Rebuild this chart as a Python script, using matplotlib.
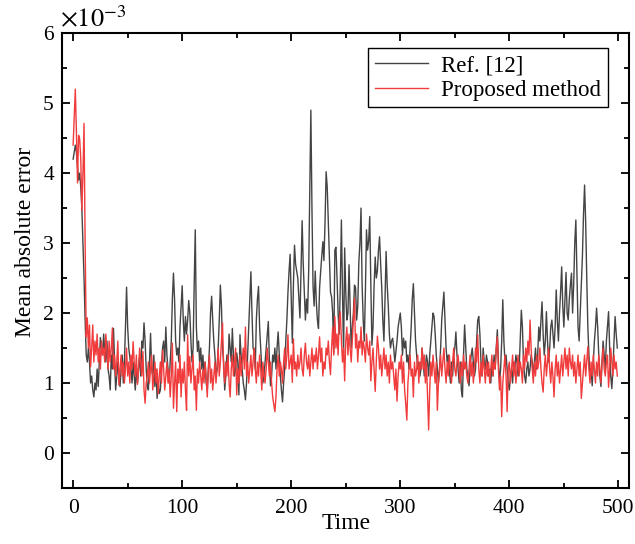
import numpy as np
import matplotlib
matplotlib.use('Agg')
import matplotlib.pyplot as plt
from matplotlib.ticker import MultipleLocator

plt.rcParams['font.family'] = 'Liberation Serif'
plt.rcParams['mathtext.fontset'] = 'stix'

# mean absolute error, units of 1e-3, one value per time step (t = 0..499)
ref12 = [
    4.2, 4.3, 4.4, 4.3, 4.1, 3.9, 4.0, 3.8, 3.5, 3.0, 2.5, 1.9, 1.4, 1.3, 1.5, 1.3, 1.0, 1.1, 0.9, 0.8,
    1.0, 0.9, 1.2, 0.95, 1.3, 1.65, 1.5, 1.4, 1.7, 1.45, 1.3, 1.6, 1.2, 1.1, 0.9, 1.4, 1.2, 1.78, 1.3, 0.9,
    1.1, 1.3, 1.05, 0.95, 1.2, 1.4, 1.0, 1.3, 1.8, 2.37, 1.8, 1.5, 1.37, 1.2, 1.0, 1.3, 1.1, 0.9, 1.25, 1.0,
    1.2, 1.4, 1.1, 1.6, 1.5, 1.86, 1.6, 1.2, 0.95, 0.9, 1.3, 1.71, 1.2, 1.1, 1.4, 0.95, 1.2, 0.78, 1.0, 0.85,
    0.9, 1.2, 1.5, 1.6, 1.3, 1.8, 1.4, 1.2, 1.0, 1.3, 1.6, 2.2, 2.57, 2.2, 1.6, 1.4, 1.5, 1.3, 1.8, 2.1,
    2.39, 1.9, 1.6, 1.95, 1.7, 1.9, 2.18, 2.0, 1.6, 1.3, 1.5, 2.4, 3.19, 1.8, 1.45, 1.6, 1.3, 1.5, 1.2, 1.4,
    1.1, 1.3, 1.0, 0.9, 1.2, 1.5, 2.0, 2.24, 1.9, 1.6, 1.4, 1.1, 1.2, 1.5, 1.9, 2.4, 2.1, 1.5, 1.3, 0.9,
    1.1, 1.4, 1.2, 1.7, 1.5, 1.3, 1.78, 1.4, 1.1, 1.2, 1.43, 1.3, 0.83, 1.69, 1.4, 1.2, 1.0, 0.9, 0.76, 1.0,
    1.4, 1.8, 2.2, 2.59, 2.0, 1.5, 1.45, 1.2, 1.9, 2.2, 2.38, 1.8, 1.5, 1.2, 1.0, 1.1, 1.3, 1.5, 1.7, 1.88,
    1.3, 0.96, 1.1, 1.4, 1.3, 1.5, 1.2, 1.5, 1.73, 1.4, 1.1, 0.9, 0.73, 1.0, 1.2, 1.6, 1.9, 2.3, 2.6, 2.84,
    2.2, 1.57, 2.4, 2.97, 2.7, 2.6, 2.5, 2.2, 1.93, 2.6, 3.32, 2.7, 2.3, 1.9, 2.2, 2.0, 2.6, 3.8, 4.9, 3.5,
    2.38, 2.1, 2.6, 2.16, 1.9, 1.78, 2.36, 2.6, 2.8, 3.02, 2.75, 3.3, 4.02, 3.8, 3.3, 2.8, 2.3, 2.23, 2.0, 1.43,
    2.9, 2.94, 2.5, 2.0, 1.7, 2.4, 3.33, 2.3, 1.4, 2.93, 2.3, 1.9, 2.0, 2.69, 2.1, 1.5, 1.8, 2.0, 2.4, 2.36,
    1.9, 2.1, 2.73, 3.0, 3.5, 2.4, 1.9, 1.6, 2.3, 3.19, 2.9, 3.03, 3.38, 2.4, 1.54, 1.8, 2.4, 2.8, 2.5, 2.6,
    2.9, 3.09, 2.7, 2.36, 1.9, 1.6, 2.2, 2.88, 2.4, 2.1, 1.7, 1.5, 1.6, 1.64, 1.5, 1.3, 1.45, 1.6, 1.8, 1.9,
    2.0, 1.8, 1.4, 1.64, 1.5, 1.6, 1.3, 1.4, 1.2, 1.5, 1.8, 2.2, 2.42, 2.0, 1.6, 1.4, 1.2, 1.3, 1.1, 1.2,
    1.5, 1.3, 1.1, 1.2, 1.4, 1.3, 1.1, 1.4, 1.6, 1.8, 2.0, 1.95, 1.7, 1.4, 1.2, 1.0, 1.2, 1.5, 1.9, 2.1,
    2.3, 1.9, 1.5, 1.3, 1.4, 1.2, 1.0, 1.3, 1.1, 1.4, 1.5, 1.73, 1.4, 1.2, 1.0, 1.3, 0.9, 0.8, 1.4, 1.83,
    1.5, 1.2, 1.1, 0.96, 1.2, 1.4, 1.5, 1.3, 1.1, 1.2, 1.6, 1.9, 1.95, 1.7, 1.3, 1.1, 1.5, 1.3, 1.2, 1.4,
    1.3, 1.1, 1.2, 1.0, 1.3, 1.1, 1.4, 1.2, 1.5, 1.76, 1.3, 1.0, 1.2, 1.6, 2.19, 1.6, 1.3, 1.4, 1.2, 1.0,
    0.9, 1.1, 1.2, 1.0, 1.3, 1.2, 1.4, 1.3, 1.1, 1.2, 1.6, 2.04, 1.8, 1.3, 1.1, 1.0, 1.2, 1.3, 1.1, 1.2,
    1.4, 1.3, 1.1, 1.3, 1.5, 1.2, 1.4, 1.8, 1.6, 1.9, 2.16, 1.7, 1.4, 1.6, 2.02, 1.6, 1.3, 1.5, 1.8, 1.9,
    1.7, 1.5, 1.8, 2.33, 1.9, 1.6, 2.0, 2.3, 2.66, 2.1, 1.8, 2.2, 2.58, 2.0, 1.9, 2.2, 2.4, 2.57, 2.0, 2.4,
    3.0, 3.33, 2.6, 1.8, 1.6, 2.0, 2.41, 2.8, 3.4, 3.83, 3.3, 2.5, 1.8, 1.4, 1.05, 1.2, 0.96, 1.3, 1.6, 1.8,
    2.07, 1.8, 1.4, 1.1, 0.95, 1.3, 1.6, 1.4, 1.2, 1.6, 1.8, 2.02, 1.5, 1.1, 0.92, 1.2, 1.6, 1.95, 1.7, 1.5,
]

proposed = [
    4.4, 4.8, 5.2, 4.6, 3.86, 4.54, 4.49, 4.2, 3.47, 4.0, 4.71, 3.0, 1.66, 1.93, 1.5, 1.83, 1.23, 1.5, 1.83, 1.3,
    1.6, 1.4, 1.7, 1.3, 1.5, 1.2, 1.6, 1.4, 1.5, 1.3, 1.7, 1.45, 1.2, 1.6, 1.3, 1.5, 1.79, 1.2, 1.4, 1.1,
    1.3, 1.6, 0.97, 1.2, 1.4, 1.1, 1.3, 1.0, 1.2, 1.5, 1.1, 1.3, 1.0, 1.4, 1.2, 1.59, 1.3, 1.1, 1.4, 0.98,
    1.2, 1.5, 1.3, 1.1, 1.45, 0.9, 0.71, 1.0, 1.1, 1.3, 1.0, 1.2, 1.4, 0.9, 1.1, 1.3, 1.0, 1.2, 0.85, 1.1,
    1.3, 1.0, 1.47, 1.2, 0.9, 1.1, 1.3, 1.0, 1.2, 0.8, 1.1, 1.57, 0.64, 1.0, 1.3, 0.59, 1.2, 1.0, 1.4, 0.8,
    1.2, 1.0, 1.3, 0.9, 0.61, 1.69, 1.1, 1.38, 1.0, 1.2, 1.4, 0.9, 1.1, 0.61, 1.2, 1.0, 1.3, 1.1, 0.9, 1.2,
    1.0, 1.3, 1.1, 0.8, 1.2, 1.4, 1.0, 1.2, 0.9, 1.1, 1.3, 1.0, 1.2, 1.5, 1.1, 1.3, 1.6, 1.86, 1.2, 1.0,
    1.3, 1.1, 1.4, 1.0, 0.8, 1.2, 1.4, 1.1, 1.3, 1.5, 0.83, 1.2, 1.0, 1.4, 1.1, 1.3, 1.5, 1.2, 1.8, 1.1,
    1.3, 1.0, 1.2, 1.4, 1.1, 1.3, 1.5, 1.2, 1.0, 1.3, 1.1, 1.4, 1.2, 0.9, 1.3, 1.1, 1.0, 1.2, 1.5, 1.3,
    1.1, 1.3, 1.0, 0.8, 0.7, 0.59, 0.8, 1.2, 1.4, 1.1, 1.3, 1.2, 1.0, 1.3, 1.5, 1.2, 1.4, 1.69, 1.2, 1.3,
    1.4, 1.01, 1.63, 1.2, 1.3, 1.1, 1.4, 1.2, 1.3, 1.5, 1.2, 1.1, 1.4, 1.57, 1.3, 1.2, 1.4, 1.1, 1.3, 1.5,
    1.2, 1.4, 1.3, 1.5, 1.2, 1.4, 1.66, 1.3, 1.5, 1.1, 1.3, 1.2, 1.5, 1.4, 1.6, 1.3, 1.12, 1.5, 1.8, 1.4,
    1.95, 1.5, 1.7, 1.4, 1.9, 2.02, 1.6, 1.3, 1.5, 1.03, 1.6, 1.8, 1.4, 1.7, 1.5, 1.3, 1.6, 1.9, 2.21, 1.5,
    1.7, 1.3, 1.6, 1.5, 1.8, 1.4, 1.6, 1.5, 1.3, 1.7, 1.5, 1.4, 1.6, 1.03, 1.3, 1.5, 1.2, 0.88, 1.3, 1.67,
    1.5, 1.2, 1.4, 1.1, 1.3, 1.5, 1.2, 1.4, 1.1, 1.3, 1.0, 1.4, 1.2, 1.3, 1.1, 0.9, 1.2, 0.74, 1.1, 1.3,
    1.2, 1.4, 1.0, 1.3, 0.9, 0.7, 0.47, 1.0, 1.2, 1.4, 1.1, 1.2, 0.8, 1.3, 1.1, 1.2, 1.4, 1.0, 1.3, 1.2,
    1.5, 1.2, 1.4, 1.0, 1.3, 0.8, 0.33, 0.9, 1.3, 1.1, 1.4, 1.2, 1.0, 1.3, 0.61, 1.0, 1.2, 1.4, 1.1, 1.3,
    1.5, 1.2, 1.0, 1.3, 1.1, 1.4, 1.2, 1.0, 1.3, 1.5, 1.2, 1.1, 1.3, 1.4, 1.2, 1.0, 1.3, 1.1, 1.4, 1.2,
    1.3, 1.1, 1.0, 1.2, 1.4, 1.1, 1.3, 1.0, 1.2, 1.5, 1.3, 1.69, 1.2, 1.0, 1.3, 1.1, 1.4, 1.2, 1.0, 1.3,
    1.1, 1.3, 1.0, 1.2, 1.4, 1.1, 1.3, 1.2, 1.5, 1.66, 1.2, 0.9, 1.1, 0.52, 1.0, 1.2, 1.4, 1.1, 0.59, 1.2,
    1.3, 1.0, 1.2, 1.4, 1.1, 1.3, 1.0, 1.2, 1.4, 1.1, 1.3, 1.2, 1.0, 1.4, 1.2, 1.5, 1.3, 1.6, 1.4, 1.9,
    1.5, 1.2, 1.0, 1.3, 1.1, 1.4, 1.2, 1.3, 1.5, 1.2, 1.0, 0.87, 1.2, 1.4, 1.1, 1.3, 1.5, 1.2, 1.0, 1.3,
    1.1, 0.8, 1.2, 1.4, 1.1, 1.3, 1.0, 1.2, 1.4, 1.1, 1.3, 1.5, 1.2, 1.4, 1.1, 1.5, 1.3, 1.2, 1.4, 1.1,
    1.3, 1.0, 1.2, 1.4, 1.1, 1.3, 0.78, 1.0, 1.2, 1.4, 1.1, 1.3, 1.52, 1.2, 1.0, 1.3, 1.1, 1.4, 1.2, 1.0,
    1.3, 1.1, 1.4, 1.2, 1.0, 1.3, 1.5, 1.2, 1.1, 1.3, 1.4, 0.94, 1.2, 1.5, 1.3, 1.1, 1.4, 1.2, 1.3, 1.1,
]

labels = ['Ref. [12]', 'Proposed method']

t = np.arange(len(ref12))

fig = plt.figure(figsize=(6.35, 5.44), dpi=100)
ax = fig.add_axes([0.098, 0.103, 0.893, 0.836])

ax.plot(t, ref12, color='#444444', lw=1.0, label=labels[0])
ax.plot(t, proposed, color='#f03c3c', lw=1.0, label=labels[1])

ax.set_xlim(-10, 510)
ax.set_ylim(-0.5, 6)
ax.xaxis.set_major_locator(MultipleLocator(100))
ax.xaxis.set_minor_locator(MultipleLocator(50))
ax.yaxis.set_major_locator(MultipleLocator(1))
ax.yaxis.set_minor_locator(MultipleLocator(0.5))
ax.tick_params(which='both', direction='in', top=True, right=True, labelsize=15.5, width=1.3)
ax.tick_params(which='major', length=6)
ax.tick_params(axis='x', which='major', pad=8)
ax.tick_params(axis='y', which='major', pad=6)
ax.tick_params(which='minor', length=3.5)
for s in ax.spines.values():
    s.set_linewidth(1.5)

ax.set_xlabel('Time', fontsize=17, labelpad=-4)
ax.set_ylabel('Mean absolute error', fontsize=17, labelpad=5, y=0.54)

leg = ax.legend(loc='upper right', fontsize=16.5, fancybox=False, edgecolor='black',
                framealpha=1, borderpad=0.3, handlelength=2.3, handletextpad=0.6,
                labelspacing=0.15, borderaxespad=0,
                bbox_to_anchor=(0.963, 0.967))
leg.get_frame().set_linewidth(1.0)

fig.text(0.095, 0.95, r'$\times10^{-3}$', fontsize=19)

fig.savefig('out.png', dpi=100)
